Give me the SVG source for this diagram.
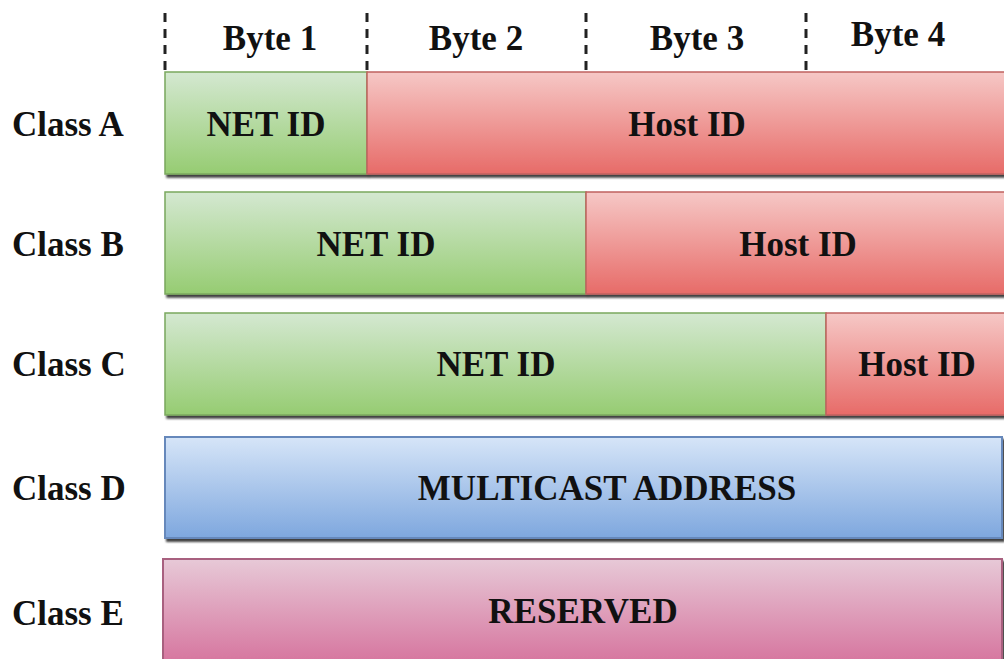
<svg xmlns="http://www.w3.org/2000/svg" width="1004" height="659" viewBox="0 0 1004 659">
<style>
text{font-family:"Liberation Serif","Times New Roman",serif;font-weight:bold;font-size:35px;fill:#111;}
.c{text-anchor:middle;}
.dash{stroke:#222;stroke-width:3;stroke-dasharray:9 7;fill:none;}
.g{fill:url(#gG);stroke:#7aa85e;stroke-width:1.5;}
.r{fill:url(#gR);stroke:#c0625f;stroke-width:1.5;}
.b{fill:url(#gB);stroke:#6688bb;stroke-width:2;}
.p{fill:url(#gP);stroke:#a8607f;stroke-width:2;}
.row{filter:url(#sh);}
</style>
<defs>
<linearGradient id="gG" x1="0" y1="0" x2="0" y2="1"><stop offset="0" stop-color="#d4e8d1"/><stop offset="1" stop-color="#96cc72"/></linearGradient>
<linearGradient id="gR" x1="0" y1="0" x2="0" y2="1"><stop offset="0" stop-color="#f6c8c6"/><stop offset="1" stop-color="#e76b68"/></linearGradient>
<linearGradient id="gB" x1="0" y1="0" x2="0" y2="1"><stop offset="0" stop-color="#d6e5f8"/><stop offset="1" stop-color="#7ea7de"/></linearGradient>
<linearGradient id="gP" x1="0" y1="0" x2="0" y2="1"><stop offset="0" stop-color="#e7c9d7"/><stop offset="1" stop-color="#d5709b"/></linearGradient>
<filter id="sh" x="-5%" y="-10%" width="115%" height="130%"><feDropShadow dx="2" dy="3" stdDeviation="1.2" flood-color="#000" flood-opacity="0.75"/></filter>
</defs>

<g id="connectors">
<line class="dash" x1="165" y1="13" x2="165" y2="72"/>
<line class="dash" x1="367" y1="13" x2="367" y2="72"/>
<line class="dash" x1="586" y1="13" x2="586" y2="72"/>
<line class="dash" x1="806" y1="13" x2="806" y2="72"/>
</g>

<g id="byte-labels">
<text class="c" x="270" y="50">Byte 1</text>
<text class="c" x="476" y="50">Byte 2</text>
<text class="c" x="697" y="50">Byte 3</text>
<text class="c" x="898" y="46">Byte 4</text>
</g>

<g id="classA">
<text x="12" y="136">Class A</text>
<g class="row">
<rect class="g" x="165" y="72" width="202" height="102"/>
<rect class="r" x="367" y="72" width="640" height="102"/>
</g>
<text class="c" x="266" y="136">NET ID</text>
<text class="c" x="687" y="136">Host ID</text>
</g>

<g id="classB">
<text x="12" y="256">Class B</text>
<g class="row">
<rect class="g" x="165" y="192" width="421" height="102"/>
<rect class="r" x="586" y="192" width="421" height="102"/>
</g>
<text class="c" x="376" y="256">NET ID</text>
<text class="c" x="798" y="256">Host ID</text>
</g>

<g id="classC">
<text x="12" y="376">Class C</text>
<g class="row">
<rect class="g" x="165" y="313" width="661" height="102"/>
<rect class="r" x="826" y="313" width="181" height="102"/>
</g>
<text class="c" x="496" y="376">NET ID</text>
<text class="c" x="917" y="376">Host ID</text>
</g>

<g id="classD">
<text x="12" y="500">Class D</text>
<rect class="b row" x="165" y="437" width="837" height="101"/>
<text class="c" x="607" y="500">MULTICAST ADDRESS</text>
</g>

<g id="classE">
<text x="12" y="625">Class E</text>
<rect class="p row" x="163" y="559" width="839" height="110"/>
<text class="c" x="583" y="623">RESERVED</text>
</g>
</svg>
